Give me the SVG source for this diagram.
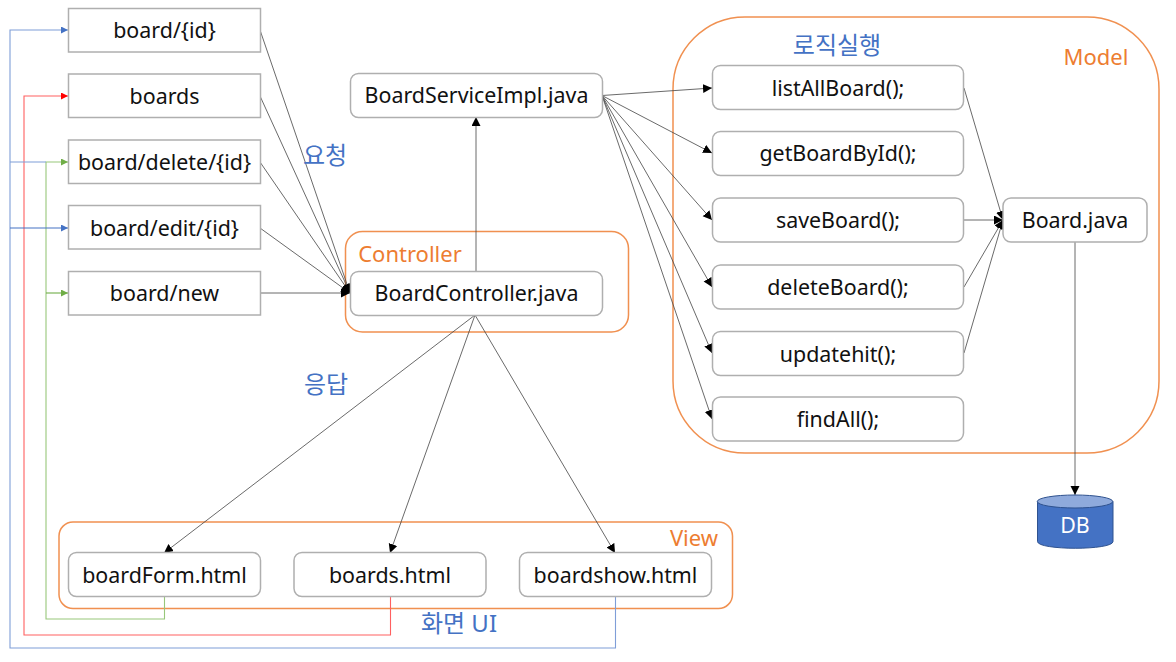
<svg xmlns="http://www.w3.org/2000/svg" width="1176" height="662" viewBox="0 0 1176 662">
<style>
text{font-family:"Noto Sans","Noto Sans CJK KR",sans-serif;font-size:21.4px;text-anchor:middle;fill:#111}
.n rect{fill:#fff;stroke:#afafaf;stroke-width:1.5}
.g{fill:none;stroke:#ed7d31;stroke-width:1.5;opacity:.85}
.o{fill:#ed7d31;font-size:22px}
.b{fill:#4472c4;font-size:24px}
.c path{fill:none;stroke:#444;stroke-width:.8;marker-end:url(#k)}
.u path{fill:none;stroke-width:1.1}
</style>
<defs>
<marker id="k" markerUnits="userSpaceOnUse" markerWidth="10" markerHeight="10" refX="9" refY="4.500" orient="auto"><path d="M0 0L9 4.500L0 9Z" fill="#000"/></marker>
<marker id="mb" markerUnits="userSpaceOnUse" markerWidth="8" markerHeight="8" refX="7" refY="3.500" orient="auto"><path d="M0 0L7 3.500L0 7Z" fill="#4472c4"/></marker>
<marker id="mr" markerUnits="userSpaceOnUse" markerWidth="8" markerHeight="8" refX="7" refY="3.500" orient="auto"><path d="M0 0L7 3.500L0 7Z" fill="#f00"/></marker>
<marker id="mg" markerUnits="userSpaceOnUse" markerWidth="8" markerHeight="8" refX="7" refY="3.500" orient="auto"><path d="M0 0L7 3.500L0 7Z" fill="#70ad47"/></marker>
</defs>
<rect width="1176" height="662" fill="#fff"/>
<g id="groups">
<rect class="g" x="673" y="17" width="486" height="436" rx="72"/>
<rect class="g" x="345.500" y="231.500" width="283" height="100.500" rx="17"/>
<rect class="g" x="59" y="522" width="673.500" height="86.500" rx="14"/>
</g>
<g id="connectors">
<g class="u">
<path d="M615.500 597V648H10V30H68" stroke="#7f9ed8" marker-end="url(#mb)"/>
<path d="M390.500 597V635H24V96H68" stroke="#ff6060" marker-end="url(#mr)"/>
<path d="M164.500 597V619H46V162H68" stroke="#98c77a" marker-end="url(#mg)"/>
<path d="M10 162H46" stroke="#7f9ed8"/>
<path d="M10 228H68" stroke="#4472c4" marker-end="url(#mb)"/>
<path d="M46 293H68" stroke="#70ad47" marker-end="url(#mg)"/>
</g>
<g class="c">
<path d="M260 30L350 293"/>
<path d="M260 96L350 293"/>
<path d="M260 162L350 293"/>
<path d="M260 228L350 293"/>
<path d="M260 293H350"/>
<path d="M476 271V117"/>
<path d="M475 315L164 553"/>
<path d="M475 315L390 553"/>
<path d="M475 315L615 553"/>
<path d="M602 95.500L712 88"/>
<path d="M602 95.500L712 153"/>
<path d="M602 95.500L712 220"/>
<path d="M602 95.500L712 287"/>
<path d="M602 95.500L712 353"/>
<path d="M602 95.500L712 419"/>
<path d="M964 88L1003 220"/>
<path d="M964 220H1003"/>
<path d="M964 287L1003 220"/>
<path d="M964 353L1003 220"/>
<path d="M1075 242V495"/>
</g>
</g>
<g id="n1" class="n"><rect x="68.500" y="8.500" width="192" height="43.500"/><text x="164.500" y="38">board/{id}</text></g>
<g id="n2" class="n"><rect x="68.500" y="74" width="192" height="43.500"/><text x="164.500" y="104">boards</text></g>
<g id="n3" class="n"><rect x="68.500" y="140" width="192" height="43.500"/><text x="164.500" y="170">board/delete/{id}</text></g>
<g id="n4" class="n"><rect x="68.500" y="205.500" width="192" height="43.500"/><text x="164.500" y="236">board/edit/{id}</text></g>
<g id="n5" class="n"><rect x="68.500" y="271.500" width="192" height="43.500"/><text x="164.500" y="301">board/new</text></g>
<g id="n6" class="n"><rect x="350.500" y="73.500" width="252" height="44" rx="8"/><text x="476.500" y="103">BoardServiceImpl.java</text></g>
<g id="n7" class="n"><rect x="350.500" y="271.500" width="252" height="44" rx="8"/><text x="476.500" y="301">BoardController.java</text></g>
<g id="n8" class="n"><rect x="712.500" y="65.500" width="251" height="44" rx="8"/><text x="838" y="96">listAllBoard();</text></g>
<g id="n9" class="n"><rect x="712.500" y="131.500" width="251" height="44" rx="8"/><text x="838" y="161">getBoardById();</text></g>
<g id="n10" class="n"><rect x="712.500" y="198" width="251" height="44" rx="8"/><text x="838" y="228">saveBoard();</text></g>
<g id="n11" class="n"><rect x="712.500" y="265" width="251" height="44" rx="8"/><text x="838" y="295">deleteBoard();</text></g>
<g id="n12" class="n"><rect x="712.500" y="331.500" width="251" height="44" rx="8"/><text x="838" y="362">updatehit();</text></g>
<g id="n13" class="n"><rect x="712.500" y="397" width="251" height="44" rx="8"/><text x="838" y="427">findAll();</text></g>
<g id="n14" class="n"><rect x="1003" y="198" width="144" height="44" rx="8"/><text x="1075" y="228">Board.java</text></g>
<g id="n15" class="n"><rect x="68.500" y="552.500" width="192" height="44" rx="8"/><text x="164.500" y="583">boardForm.html</text></g>
<g id="n16" class="n"><rect x="294" y="552.500" width="192" height="44" rx="8"/><text x="390" y="583">boards.html</text></g>
<g id="n17" class="n"><rect x="519.500" y="552.500" width="192" height="44" rx="8"/><text x="615.500" y="583">boardshow.html</text></g>
<g id="db"><path d="M1037.500 501.500V541.500C1037.500 550.500 1113 550.500 1113 541.500V501.500Z" fill="#4472c4" stroke="#2f528f"/><ellipse cx="1075" cy="501.500" rx="37.750" ry="6.500" fill="#8faadc" stroke="#2f528f"/><text x="1075" y="533" style="fill:#fff">DB</text></g>
<text class="b" x="325" y="164">요청</text>
<text class="b" x="326" y="393">응답</text>
<text class="b" x="837" y="54">로직실행</text>
<text class="b" x="459" y="632">화면 UI</text>
<text class="o" x="410" y="262">Controller</text>
<text class="o" x="1096" y="65">Model</text>
<text class="o" x="694" y="546">View</text>
</svg>
